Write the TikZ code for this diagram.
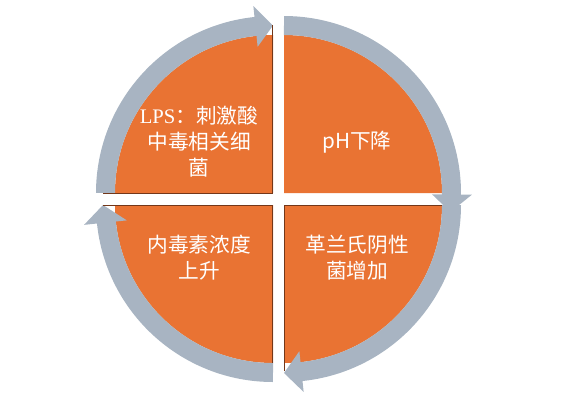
\documentclass[tikz,border=0pt]{standalone}
\usepackage{fontspec}
\newfontfamily\cjk{Noto Sans CJK SC}
\newfontfamily\lser{Liberation Serif}
\usetikzlibrary{calc}
\definecolor{orng}{RGB}{233,115,51}
\definecolor{ringc}{RGB}{168,180,194}
\definecolor{shadowc}{RGB}{115,55,25}
\begin{document}
\begin{tikzpicture}[x=0.75pt,y=-0.75pt,
  piece/.style={fill=orng},
  band/.style={draw=ringc, line width=14.25pt},
  head/.style={fill=ringc},
  edgeline/.style={draw=shadowc, line width=0.9pt},
  lbl/.style={text=white, align=center, font=\cjk\fontsize{15.5}{19.5}\selectfont}]
\useasboundingbox (0,0) rectangle (561,404);
\coordinate (c1) at (273,193);
\coordinate (c2) at (284,193);
\coordinate (c3) at (284,205);
\coordinate (c4) at (273,205);
% orange quarters
\fill[piece] (c1) -- ($(c1)+(180:158)$) arc[start angle=180,end angle=270,radius=158] -- cycle;
\fill[piece] (c2) -- ($(c2)+(270:158)$) arc[start angle=270,end angle=360,radius=158] -- cycle;
\fill[piece] (c3) -- ($(c3)+(0:158)$) arc[start angle=0,end angle=90,radius=158] -- cycle;
\fill[piece] (c4) -- ($(c4)+(90:158)$) arc[start angle=90,end angle=180,radius=158] -- cycle;
% ring arrows
\draw[band] ($(c1)+(180:167.5)$) arc[start angle=180,end angle=264.5,radius=167.5];
\fill[head] ($(c1)+(264:147)$) -- ($(c1)+(264:188)$) -- ($(c1)+(270:167.5)$) -- cycle;
\draw[band] ($(c2)+(270:167.5)$) arc[start angle=270,end angle=361,radius=167.5];
\fill[head] ($(c2)+(0.5:148)$) -- ($(c2)+(0.5:188)$) -- ($(c2)+(6.5:167.5)$) -- cycle;
\draw[band] ($(c3)+(0:167.5)$) arc[start angle=0,end angle=84.5,radius=167.5];
\fill[head] ($(c3)+(84:147)$) -- ($(c3)+(84:188)$) -- ($(c3)+(90:168)$) -- cycle;
\draw[band] ($(c4)+(90:167.5)$) arc[start angle=90,end angle=174.5,radius=167.5];
\fill[head] ($(c4)+(174:147)$) -- ($(c4)+(174:190)$) -- ($(c4)+(180:170)$) -- cycle;
% shadow edges
\draw[edgeline] (103,193.5) -- (272.5,193.5) -- (272.5,25);
\draw[edgeline] (103,205.5) -- (272.5,205.5) -- (272.5,363);
\draw[edgeline] (284.5,371) -- (284.5,205.5) -- (442,205.5);
% labels
\node[lbl] (t1) at (199,142) {{\lser LPS}：刺激酸\\中毒相关细\\菌};
\node[lbl] (t2) at (357,142) {pH下降};
\node[lbl] (t3) at (199,258) {内毒素浓度\\上升};
\node[lbl] (t4) at (357,258) {革兰氏阴性\\菌增加};
\end{tikzpicture}
\end{document}
